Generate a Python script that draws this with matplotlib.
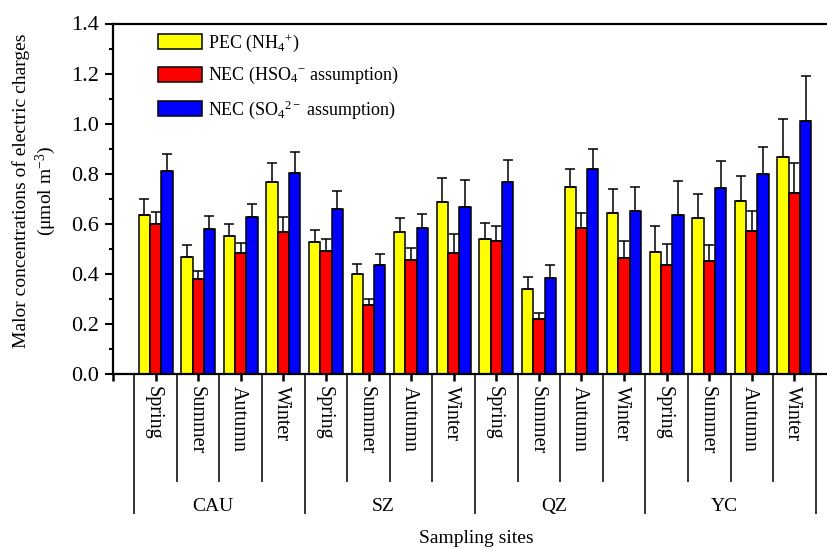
import numpy as np
import matplotlib
matplotlib.use('Agg')
import matplotlib.pyplot as plt

plt.rcParams['font.family'] = ['Liberation Serif', 'DejaVu Serif']
plt.rcParams['mathtext.fontset'] = 'custom'
plt.rcParams['mathtext.rm'] = 'Liberation Serif'
plt.rcParams['mathtext.it'] = 'Liberation Serif:italic'

sites = ['CAU', 'SZ', 'QZ', 'YC']
seasons = ['Spring', 'Summer', 'Autumn', 'Winter']

# values per site/season (CAU x4, SZ x4, QZ x4, YC x4)
pec = [0.637, 0.469, 0.553, 0.765, 0.529, 0.400, 0.568, 0.689,
       0.540, 0.340, 0.745, 0.645, 0.489, 0.625, 0.693, 0.868]
pec_top = [0.700, 0.516, 0.600, 0.844, 0.576, 0.440, 0.624, 0.783,
           0.604, 0.386, 0.820, 0.737, 0.593, 0.717, 0.789, 1.020]
nec_hso4 = [0.601, 0.378, 0.485, 0.569, 0.491, 0.274, 0.457, 0.485,
            0.532, 0.218, 0.585, 0.465, 0.434, 0.450, 0.573, 0.721]
nec_hso4_top = [0.648, 0.412, 0.524, 0.627, 0.541, 0.300, 0.504, 0.560,
                0.593, 0.245, 0.643, 0.532, 0.521, 0.517, 0.653, 0.844]
nec_so4 = [0.812, 0.581, 0.626, 0.804, 0.661, 0.437, 0.585, 0.669,
           0.765, 0.382, 0.817, 0.653, 0.637, 0.741, 0.797, 1.012]
nec_so4_top = [0.880, 0.632, 0.679, 0.887, 0.729, 0.480, 0.640, 0.773,
               0.856, 0.434, 0.900, 0.745, 0.769, 0.849, 0.908, 1.189]

labels = ['PEC (NH$_4$$^{+}$)',
          'NEC (HSO$_4$$^{-}$ assumption)',
          'NEC (SO$_4$$^{2-}$ assumption)']
colors = ['#FFFF00', '#FF0000', '#0000FF']

fig = plt.figure(figsize=(8.28, 5.49), dpi=100)
ax = fig.add_axes([113 / 828, 175 / 549, 724 / 828, 350.5 / 549])

x = np.arange(len(pec))
w = 0.265
series = [(pec, pec_top), (nec_hso4, nec_hso4_top), (nec_so4, nec_so4_top)]
for k, (vals, tops) in enumerate(series):
    vals = np.array(vals)
    err = np.array(tops) - vals
    ax.bar(x + (k - 1) * w, vals, width=w, color=colors[k], edgecolor='black',
           linewidth=1.1, label=labels[k], zorder=2)
    ax.errorbar(x + (k - 1) * w, vals, yerr=[np.zeros_like(err), err], fmt='none',
                ecolor='black', elinewidth=1.1, capsize=3.5, capthick=1.1, zorder=3)

ax.set_xlim(-1, 16)
ax.set_ylim(0, 1.4)
ax.set_yticks(np.arange(0, 1.41, 0.2))
ax.set_yticks(np.arange(0.1, 1.4, 0.2), minor=True)
ax.set_yticklabels(['%.1f' % v for v in np.arange(0, 1.41, 0.2)])
ax.set_xticks(np.arange(-1, 17))
ax.set_xticklabels([])
ax.tick_params(axis='y', which='major', direction='out', length=6, width=1.5, labelsize=16, pad=4)
ax.tick_params(axis='y', which='minor', direction='out', length=3, width=1.5)
ax.tick_params(axis='x', which='major', direction='out', length=5, width=1.8)
ax.spines['right'].set_visible(False)
for s in ['left', 'bottom', 'top']:
    ax.spines[s].set_linewidth(1.6)

# category separators below the axis
tr = ax.get_xaxis_transform()
for b in np.arange(-0.5, 16, 1.0):
    site_edge = int(round(b + 0.5)) % 4 == 0
    y_end = -0.397 if site_edge else -0.305
    ax.plot([b, b], [0, y_end], transform=tr, clip_on=False, color='#333333', lw=1.4)

for i in range(16):
    ax.text(i - 0.05, -0.035, seasons[i % 4], transform=tr, rotation=270,
            ha='center', va='top', fontsize=14.5)
for j, site in enumerate(sites):
    ax.text(4 * j + 1.35, -0.392, site, transform=tr, ha='center', va='baseline', fontsize=14)

fig.text(476 / 828, 6 / 549, 'Sampling sites', ha='center', va='baseline', fontsize=14)
fig.text(21 / 828, 1 - 191 / 549, 'Malor concentrations of electric charges',
         rotation=90, ha='center', va='center', fontsize=14)
fig.text(46 / 828, 1 - 191 / 549, '(μmol m$^{-3}$)',
         rotation=90, ha='center', va='center', fontsize=14)

ax.legend(loc='upper left', bbox_to_anchor=(0.052, 0.997), frameon=False, fontsize=13,
          handlelength=2.45, handleheight=0.9, labelspacing=0.65, handletextpad=0.3,
          borderaxespad=0)

fig.savefig('out.png', dpi=100)
